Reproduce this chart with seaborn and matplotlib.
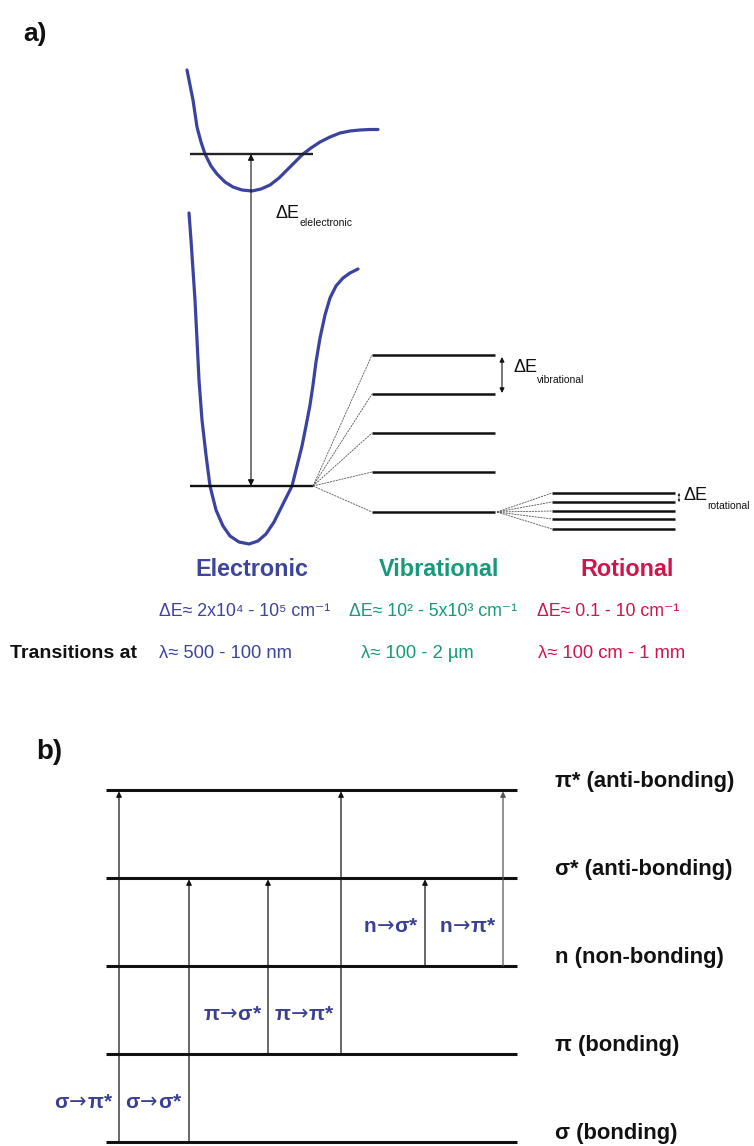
import matplotlib
matplotlib.use("Agg")
import matplotlib.pyplot as plt
import seaborn as sns
import pandas as pd

# ---------------- data: panel a (diagram units) ----------------
upper_x = [187, 190, 193, 197, 201, 205, 211, 217, 225, 233, 242, 252, 261, 270, 279,
           287, 295, 303, 311, 320, 330, 340, 350, 360, 370, 378]
upper_y = [70, 85, 100, 127, 142, 154, 166, 174, 182, 187, 190, 191, 189, 185, 178,
           170, 162, 154, 148, 142, 137, 133, 131, 130, 129.5, 129.5]

lower_x = [189, 191, 193, 195, 197, 199, 202, 206, 210, 216, 223, 230, 239, 249, 258,
           266, 274, 281, 287, 292, 297, 302, 306, 310, 313, 316, 320, 325, 330, 336,
           343, 350, 358]
lower_y = [213, 240, 270, 300, 340, 380, 420, 455, 486, 510, 526, 536, 542, 544, 541,
           534, 522, 508, 496, 486, 466, 446, 426, 405, 385, 362, 338, 315, 298, 286,
           278, 273, 269]

electronic_levels = [154, 486]
vibrational_levels = [355, 394, 433, 472, 512]
rotational_levels = [493, 502, 511, 519, 529]

categories = ["Electronic", "Vibrational", "Rotional"]
delta_e_text = ["\u0394E\u2248 2x10\u2074 - 10\u2075 cm\u207b\u00b9",
                "\u0394E\u2248 10\u00b2 - 5x10\u00b3 cm\u207b\u00b9",
                "\u0394E\u2248 0.1 - 10 cm\u207b\u00b9"]
wavelength_text = ["\u03bb\u2248 500 - 100 nm",
                   "\u03bb\u2248 100 - 2 \u00b5m",
                   "\u03bb\u2248 100 cm - 1 mm"]
category_colors = ["#3d449b", "#17997b", "#d0154c"]

# ---------------- data: panel b ----------------
orbitals = ["\u03c3 (bonding)", "\u03c0 (bonding)", "n (non-bonding)",
            "\u03c3* (anti-bonding)", "\u03c0* (anti-bonding)"]
orbital_energy = [0, 1, 2, 3, 4]
trans_start = ["\u03c3", "\u03c3", "\u03c0", "\u03c0", "n", "n"]
trans_end = ["\u03c0*", "\u03c3*", "\u03c3*", "\u03c0*", "\u03c3*", "\u03c0*"]
trans_from = [0, 0, 1, 1, 2, 2]
trans_to = [4, 3, 3, 4, 3, 4]

# ---------------- fonts ----------------
sns.set_theme(style="white")
FAM = ["Liberation Sans", "DejaVu Sans"]
plt.rcParams["font.family"] = FAM
plt.rcParams["mathtext.fontset"] = "dejavusans"

W, H = 754, 1146
fig = plt.figure(figsize=(W / 100, H / 100), dpi=100)
ax = fig.add_axes([0, 0, 1, 1])

# ================= panel a =================
curves = pd.concat([
    pd.DataFrame({"x": upper_x, "y": upper_y, "state": "excited"}),
    pd.DataFrame({"x": lower_x, "y": lower_y, "state": "ground"}),
])
sns.lineplot(data=curves, x="x", y="y", units="state", estimator=None, sort=False,
             color="#3b43a0", lw=2.3, ax=ax, legend=False)
ax.set_xlim(0, W)
ax.set_ylim(H, 0)
ax.axis("off")

ax.text(23, 34, "a)", fontsize=19, fontweight="bold", va="center", ha="left", color="#111111")

# electronic levels
ax.hlines(electronic_levels[0], 190, 313, color="#222222", lw=1.7)
ax.hlines(electronic_levels[1], 190, 313, color="#111111", lw=1.7)
ax.annotate("", xy=(251, electronic_levels[0]), xytext=(251, electronic_levels[1]),
            arrowprops=dict(arrowstyle="<|-|>", lw=0.8, color="#111111",
                            mutation_scale=9, shrinkA=0, shrinkB=0))
ax.text(276, 213, "\u0394E", fontsize=13, va="center", ha="left", color="#111111")
ax.text(299, 223, "elelectronic", fontsize=7.5, va="center", ha="left", color="#111111")

# vibrational levels + fan
for v in vibrational_levels:
    ax.plot([313, 372], [electronic_levels[1], v], color="#555555", lw=0.6, ls=(0, (2.5, 1)))
ax.hlines(vibrational_levels, 372, 495, color="#111111", lw=1.8)
ax.annotate("", xy=(502, vibrational_levels[0] + 2), xytext=(502, vibrational_levels[1] - 1),
            arrowprops=dict(arrowstyle="<|-|>", lw=0.8, color="#111111",
                            mutation_scale=7, shrinkA=0, shrinkB=0))
ax.text(513, 368, "\u0394E", fontsize=13, va="center", ha="left", color="#111111")
ax.text(537, 380, "vibrational", fontsize=7.5, va="center", ha="left", color="#111111")

# rotational levels + fan
for r in rotational_levels:
    ax.plot([497, 552], [vibrational_levels[-1], r], color="#555555", lw=0.6, ls=(0, (2.5, 1)))
ax.hlines(rotational_levels, 552, 675, color="#111111", lw=1.8)
ax.annotate("", xy=(679, rotational_levels[0]), xytext=(679, rotational_levels[1]),
            arrowprops=dict(arrowstyle="<|-|>", lw=0.5, color="#111111",
                            mutation_scale=3, shrinkA=0, shrinkB=0))
ax.text(683, 496, "\u0394E", fontsize=13, va="center", ha="left", color="#111111")
ax.text(707, 506, "rotational", fontsize=7.5, va="center", ha="left", color="#111111")

# headings and ranges
head_x = [252, 439, 627]
de_x = [159, 349, 537]
lam_x = [159, 361, 538]
for i, cat in enumerate(categories):
    ax.text(head_x[i], 570, cat, fontsize=16.8, fontweight="bold", color=category_colors[i],
            ha="center", va="center")
    ax.text(de_x[i], 611, delta_e_text[i], fontsize=12.8, color=category_colors[i],
            ha="left", va="center")
    ax.text(lam_x[i], 654, wavelength_text[i], fontsize=13.2, color=category_colors[i],
            ha="left", va="center")
ax.text(10, 654, "Transitions at", fontsize=14, fontweight="bold", color="#111111",
        ha="left", va="center")

# ================= panel b =================
ax.text(36, 752, "b)", fontsize=20, fontweight="bold", va="center", ha="left", color="#111111")


def ypix(e):
    return 1142 - 88 * e


for name, e in zip(orbitals, orbital_energy):
    ax.hlines(ypix(e), 106, 517, color="#111111", lw=2.2)
    ax.text(555, ypix(e) - 9, name, fontsize=15.8, fontweight="bold", color="#111111",
            ha="left", va="center")

trans_x = [119, 189, 268, 341, 425, 503]
for i in range(len(trans_start)):
    x = trans_x[i]
    col = "#111111" if i < 5 else "#555555"
    ax.annotate("", xy=(x, ypix(trans_to[i])), xytext=(x, ypix(trans_from[i])),
                arrowprops=dict(arrowstyle="-|>", lw=0.9, color=col,
                                mutation_scale=8, shrinkA=0, shrinkB=1))
    label = trans_start[i] + r"$\!\rightarrow\!$" + trans_end[i]
    ax.text(x - 6, ypix(trans_from[i] + 0.45), label, fontsize=15, fontweight="bold",
            color="#3a3f95", ha="right", va="center")

fig.savefig("out.png", dpi=100)
